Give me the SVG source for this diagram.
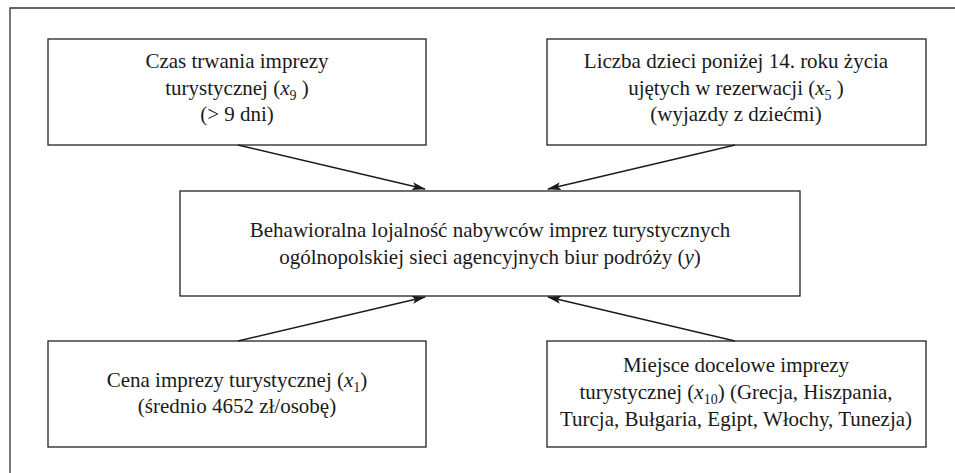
<svg xmlns="http://www.w3.org/2000/svg" width="955" height="473" viewBox="0 0 955 473">
<style>
.box{fill:#fff;stroke:#222;stroke-width:1.3}
.frame{fill:none;stroke:#333;stroke-width:1.3}
.t text{font-size:21px;fill:#1a1a1a;text-anchor:middle}
.it{font-style:italic}
.sub{font-size:14px}
.conn line{stroke:#1a1a1a;stroke-width:1.3;marker-end:url(#arr)}
</style>
<defs>
<marker id="arr" markerWidth="14" markerHeight="8" refX="13" refY="4" orient="auto" markerUnits="userSpaceOnUse">
<path d="M0,0 L14,4 L0,8 L3,4 Z" fill="#1a1a1a"/>
</marker>
</defs>
<rect width="955" height="473" fill="#fff"/>
<path class="frame" d="M10,473 L10,8 L955,8"/>
<g class="t" font-family="Liberation Serif, DejaVu Serif, serif">
<g id="n_czas">
<rect class="box" x="48" y="39" width="378" height="106"/>
<text x="237" y="68">Czas trwania imprezy</text>
<text x="237" y="95">turystycznej (<tspan class="it">x</tspan><tspan class="sub" dy="5">9</tspan><tspan dy="-5"> )</tspan></text>
<text x="237" y="121">(&gt; 9 dni)</text>
</g>
<g id="n_dzieci">
<rect class="box" x="547" y="39" width="379" height="106"/>
<text x="736" y="68">Liczba dzieci poniżej 14. roku życia</text>
<text x="736" y="95">ujętych w rezerwacji (<tspan class="it">x</tspan><tspan class="sub" dy="5">5</tspan><tspan dy="-5"> )</tspan></text>
<text x="736" y="121">(wyjazdy z dziećmi)</text>
</g>
<g id="n_y">
<rect class="box" x="180" y="191" width="620" height="105"/>
<text x="490" y="237">Behawioralna lojalność nabywców imprez turystycznych</text>
<text x="490" y="264">ogólnopolskiej sieci agencyjnych biur podróży (<tspan class="it">y</tspan>)</text>
</g>
<g id="n_cena">
<rect class="box" x="48" y="341" width="378" height="106"/>
<text x="237" y="387">Cena imprezy turystycznej (<tspan class="it">x</tspan><tspan class="sub" dy="5">1</tspan><tspan dy="-5">)</tspan></text>
<text x="237" y="413">(średnio 4652 zł/osobę)</text>
</g>
<g id="n_miejsce">
<rect class="box" x="547" y="341" width="379" height="106"/>
<text x="736" y="372">Miejsce docelowe imprezy</text>
<text x="736" y="399">turystycznej (<tspan class="it">x</tspan><tspan class="sub" dy="5">10</tspan><tspan dy="-5">) (Grecja, Hiszpania,</tspan></text>
<text x="736" y="426">Turcja, Bułgaria, Egipt, Włochy, Tunezja)</text>
</g>
</g>
<g class="conn" id="connectors">
<line x1="238" y1="145" x2="425" y2="189"/>
<line x1="735" y1="145" x2="548" y2="189"/>
<line x1="238" y1="341" x2="425" y2="297"/>
<line x1="735" y1="341" x2="548" y2="297"/>
</g>
</svg>
